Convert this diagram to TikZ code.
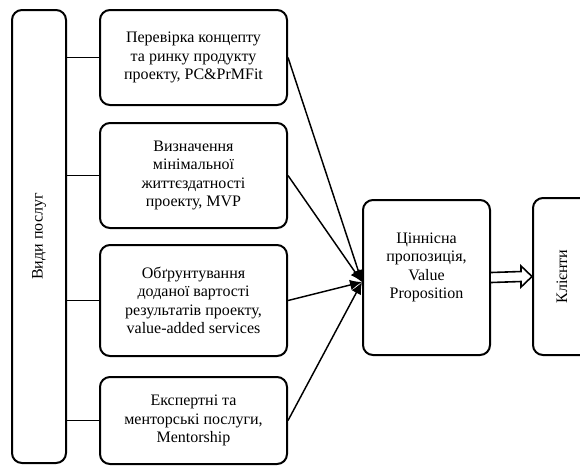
\documentclass[tikz,border=0pt]{standalone}
\usepackage{fontspec}
\setmainfont{Liberation Serif}
\usetikzlibrary{arrows.meta}
\begin{document}
\begin{tikzpicture}[x=.75pt,y=-.75pt,
	box/.style={draw,line width=1.5pt,rounded corners=7.5pt,inner sep=0pt,align=center,
		font=\fontsize{12}{13.8}\selectfont},
	srv/.style={box,minimum width=140.25pt},
	link/.style={line width=1.1pt}]
\useasboundingbox (0,0) rectangle (580,465);
\node[box,minimum width=40.5pt,minimum height=339.75pt](types)at(39,236.5){\rotatebox{90}{Види послуг}};
\node[srv,minimum height=71.25pt](b1)at(193.5,57.5){Перевірка концепту\\та ринку продукту\\проекту, PC\&PrMFit};
\node[srv,minimum height=78.75pt](b2)at(193.5,175.5){Визначення\\мінімальної\\життєздатності\\проекту, MVP};
\node[srv,minimum height=83.25pt](b3)at(193.5,300.5){Обґрунтування\\доданої вартості\\результатів проекту,\\value-added services};
\node[srv,minimum height=65.25pt](b4)at(193.5,420.5){Експертні та\\менторські послуги,\\Mentorship};
\node[box,minimum width=95.25pt,minimum height=116.25pt](vp)at(426.5,277.5){Ціннісна\\пропозиція,\\Value\\Proposition\\[4pt]};
\node[box,minimum width=43.5pt,minimum height=117.75pt](cl)at(562,276.5){\rotatebox{90}{Клієнти}};
\coordinate(hub)at([yshift=-3.4pt]vp.west);
\foreach \b in {b1,b2,b3,b4}{
	\draw[link](\b.west)--(\b.west-|types.east);
	\draw[link,-{Latex[length=9pt,width=8pt]}](\b.east)--(hub);}
\draw[line width=1.2pt,fill=white]([yshift=3.75pt]vp.east)--([xshift=-8.25pt,yshift=3.75pt]cl.west)
	--([xshift=-8.25pt,yshift=7.9pt]cl.west)--(cl.west)--([xshift=-8.25pt,yshift=-7.9pt]cl.west)
	--([xshift=-8.25pt,yshift=-3.75pt]cl.west)--([yshift=-3.75pt]vp.east);
\end{tikzpicture}
\end{document}
